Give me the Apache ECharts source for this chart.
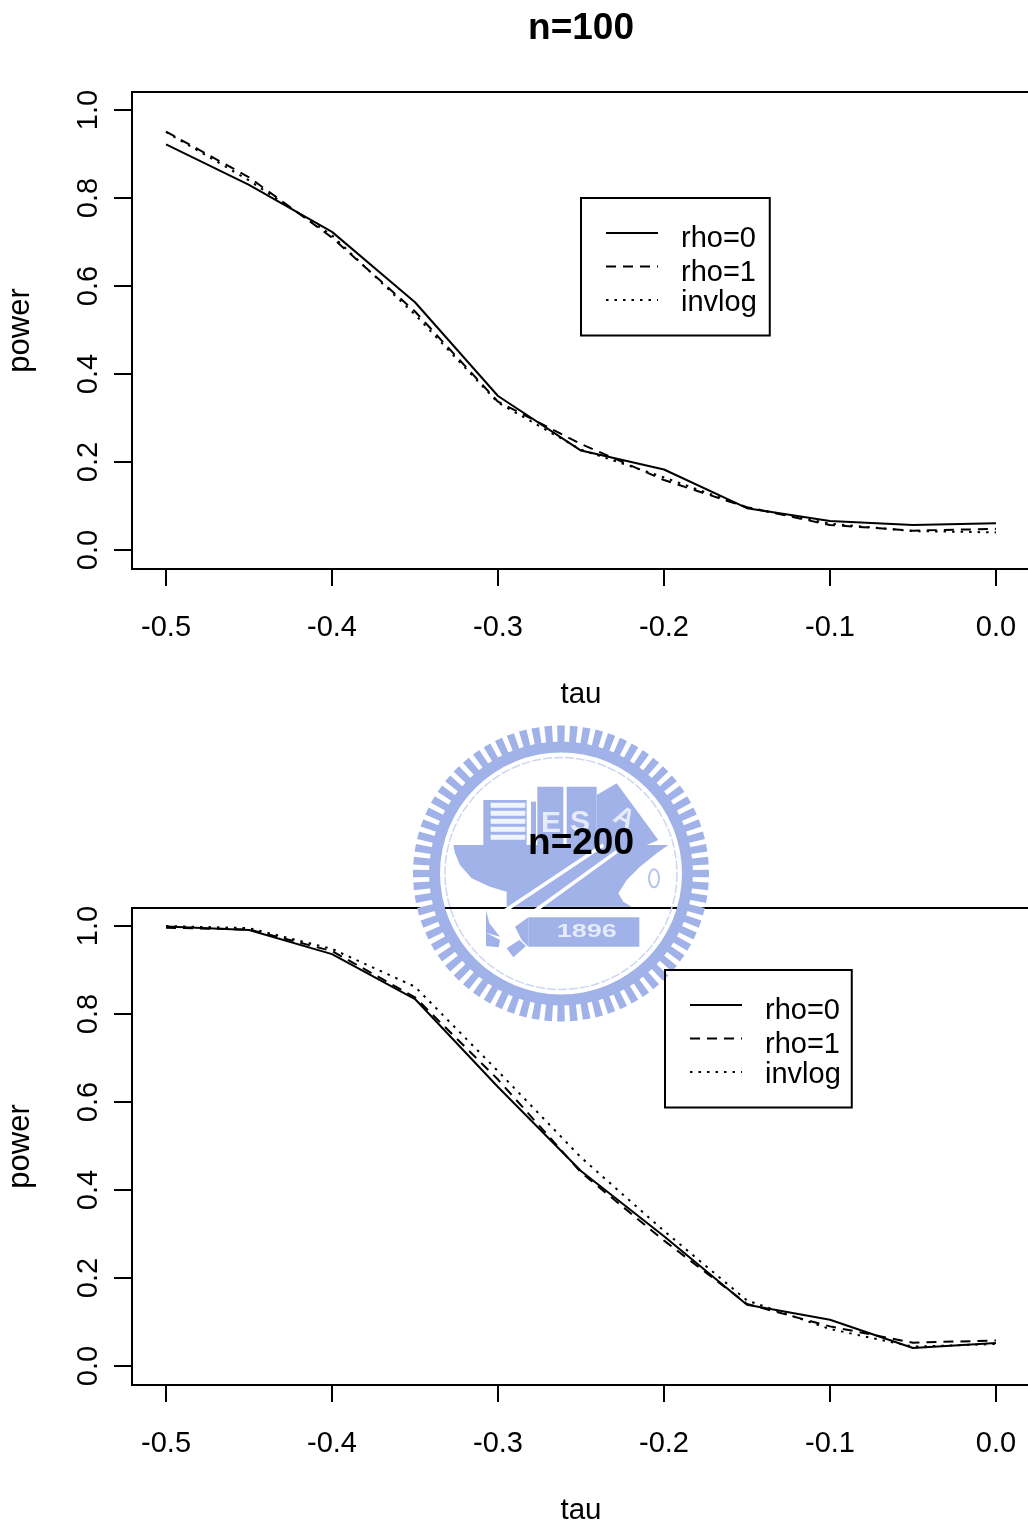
<!DOCTYPE html>
<html>
<head>
<meta charset="utf-8">
<style>html,body{margin:0;padding:0;background:#fff}#c{width:1028px;height:1526px}</style>
<script src="https://cdn.jsdelivr.net/npm/echarts@6/dist/echarts.min.js"></script>
</head>
<body>
<div id="c"></div>
<script>
const tau = [-0.5,-0.45,-0.4,-0.35,-0.3,-0.25,-0.2,-0.15,-0.1,-0.05,0];
const xTicks = [-0.5,-0.4,-0.3,-0.2,-0.1,0];
const yTicks = [0,0.2,0.4,0.6,0.8,1];
const seriesNames = ['rho=0','rho=1','invlog'];
const titles = ['n=100','n=200'];

const n100rho0 = [0.922,0.830,0.723,0.563,0.350,0.226,0.183,0.095,0.066,0.057,0.061];
const n100rho1 = [0.951,0.847,0.710,0.542,0.337,0.241,0.159,0.097,0.057,0.044,0.048];
const n100inv  = [0.950,0.840,0.715,0.535,0.335,0.228,0.165,0.097,0.060,0.043,0.040];

const n200rho0 = [0.999,0.991,0.936,0.834,0.634,0.443,0.295,0.139,0.105,0.041,0.052];
const n200rho1 = [0.996,0.992,0.943,0.838,0.651,0.440,0.285,0.141,0.090,0.053,0.058];
const n200inv  = [1.000,0.995,0.948,0.862,0.670,0.474,0.307,0.149,0.084,0.044,0.050];

const font = '"Liberation Sans", Arial, sans-serif';
const pair = ys => ys.map((y,i)=>[tau[i],y]);
const lineStyles = [
  {color:'#000',width:2,type:'solid'},
  {color:'#000',width:2,type:[10,7]},
  {color:'#000',width:2,type:[2.5,6]}
];

function plotSeries(idx, arrays){
  return arrays.map((ys,i)=>({
    name:seriesNames[i], type:'line', xAxisIndex:idx, yAxisIndex:idx,
    data:pair(ys), symbol:'none', lineStyle:lineStyles[i], itemStyle:{color:'#000'},
    clip:true, animation:false, z:5-i
  }));
}
function xAxisOf(idx){
  return {
    gridIndex:idx, type:'value', min:-0.5205, max:0.0205,
    name:'tau', nameLocation:'middle', nameGap:111,
    nameTextStyle:{fontFamily:font,fontSize:29.5,color:'#000'},
    axisLine:{show:true,onZero:false,lineStyle:{color:'#000',width:2}},
    axisTick:{show:true,length:17,customValues:xTicks,lineStyle:{color:'#000',width:2}},
    axisLabel:{show:true,customValues:xTicks,margin:44,fontFamily:font,fontSize:29,color:'#000',
      showMinLabel:true,showMaxLabel:true,hideOverlap:false,formatter:v=>v.toFixed(1)},
    splitLine:{show:false}
  };
}
function yAxisOf(idx){
  return {
    gridIndex:idx, type:'value', min:-0.0432, max:1.0409,
    name:'power', nameLocation:'middle', nameGap:96, nameRotate:90,
    nameTextStyle:{fontFamily:font,fontSize:31,color:'#000'},
    axisLine:{show:true,onZero:false,lineStyle:{color:'#000',width:2}},
    axisTick:{show:true,length:18,customValues:yTicks,lineStyle:{color:'#000',width:2}},
    axisLabel:{show:true,customValues:yTicks,rotate:90,margin:29,fontFamily:font,fontSize:29,color:'#000',
      hideOverlap:false,formatter:v=>v.toFixed(1)},
    splitLine:{show:false}
  };
}
const tok = {a:{p:[12,0,0,18]},b:{p:[12,0,0,18]},c:{p:[9,0,3,18]}};
function legendOf(left,top,rightPad){
  const rich={};
  Object.keys(tok).forEach(k=>{rich[k]={fontFamily:font,fontSize:29,color:'#000',verticalAlign:'top',padding:tok[k].p};});
  return {
    left:left, top:top, orient:'vertical', itemWidth:52, itemHeight:30, itemGap:1,
    padding:[23,rightPad,18,24], borderColor:'#000', borderWidth:2, backgroundColor:'rgba(255,255,255,0)',
    data:seriesNames, selectedMode:false, inactiveColor:'#000',
    itemStyle:{color:'transparent',borderWidth:0,opacity:0},
    formatter:n=>`{${'abc'[seriesNames.indexOf(n)]}|${n}}`,
    textStyle:{fontFamily:font,fontSize:29,color:'#000',rich:rich}
  };
}

/* --- decorative watermark behind the plots --- */
const LOGO='#a0b2e8';
const z=(x,y)=>[400+x/3,710+y/3];
const poly=(pts,fill)=>({type:'polygon',shape:{points:pts.map(p=>z(p[0],p[1]))},style:{fill:fill||LOGO}});
const rect=(x0,y0,x1,y1,fill)=>{const a=z(x0,y0),b=z(x1,y1);return {type:'rect',shape:{x:a[0],y:a[1],width:b[0]-a[0],height:b[1]-a[1]},style:{fill:fill||LOGO}};};
const lin=(pts,w)=>({type:'polyline',shape:{points:pts.map(p=>z(p[0],p[1]))},style:{stroke:'#fff',lineWidth:w,fill:null}});
const logoText=(t,x,y,size,rot,sx)=>{const p=z(x,y);return {type:'text',x:p[0],y:p[1],rotation:rot||0,scaleX:sx||1,style:{text:t,fontFamily:font,fontWeight:'bold',fontSize:size,fill:'#e6ebfa',align:'center',verticalAlign:'middle'}};};
function logo(){
  const cx=561,cy=873.5,els=[];
  els.push({type:'ring',shape:{cx,cy,r:132,r0:121},style:{fill:LOGO}});
  els.push({type:'circle',shape:{cx,cy,r:116},style:{fill:null,stroke:'#ccd6f2',lineWidth:1.5,lineDash:[9,2]}});
  const N=72;
  for(let i=0;i<N;i++){
    const a=2*Math.PI*i/N, d=0.026;
    const pt=(r,t)=>[cx+r*Math.cos(t),cy+r*Math.sin(t)];
    els.push({type:'polygon',shape:{points:[pt(130,a-d),pt(148,a-d),pt(148,a+d),pt(130,a+d)]},style:{fill:LOGO}});
  }
  els.push(poly([[160,405],[805,405],[770,430],[720,470],[680,510],[655,550],[670,575],[695,590],[320,590],[320,545],[270,530],[215,505],[180,465],[165,430]]));
  els.push(rect(250,270,380,405));
  for(let y=278;y<395;y+=24) els.push(rect(272,y,376,y+15,'#f2f4fc'));
  els.push(rect(393,275,408,405));
  els.push(rect(412,230,490,405));
  els.push(rect(500,230,590,405));
  els.push(poly([[590,255],[650,220],[775,390],[740,405],[590,405]]));
  els.push(logoText('E',453,342,30));
  els.push(logoText('S',540,338,30));
  els.push(logoText('A',672,325,27,-0.5));
  els.push(lin([[300,612],[610,405]],3.5));
  els.push(lin([[350,642],[650,425]],3.5));
  els.push(poly([[258,600],[268,640],[300,680],[258,668]]));
  els.push(poly([[258,668],[300,690],[296,712],[258,708]]));
  els.push(poly([[320,715],[358,690],[378,708],[340,742]]));
  els.push(poly([[345,650],[385,622],[385,710],[365,690]]));
  els.push(rect(385,622,718,710));
  els.push(logoText('1896',560,665,18,0,1.5));
  const c=z(762,505);
  els.push({type:'ellipse',shape:{cx:c[0],cy:c[1],rx:5,ry:9},style:{fill:null,stroke:'#b7c5ec',lineWidth:2}});
  return els;
}

const option = {
  backgroundColor:'#fff',
  animation:false,
  graphic:[{type:'group',z:-10,silent:true,children:logo()}],
  title:titles.map((t,i)=>({
    text:t,left:576,top:[5,820][i],textAlign:'center',
    textStyle:{fontFamily:font,fontWeight:'bold',fontSize:37,color:'#000'}
  })),
  grid:[
    {left:132,top:92,width:898,height:477,show:true,borderColor:'#000',borderWidth:2,backgroundColor:'transparent',containLabel:false,outerBoundsMode:'none'},
    {left:132,top:908,width:898,height:477,show:true,borderColor:'#000',borderWidth:2,backgroundColor:'transparent',containLabel:false,outerBoundsMode:'none'}
  ],
  xAxis:[xAxisOf(0),xAxisOf(1)],
  yAxis:[yAxisOf(0),yAxisOf(1)],
  legend:[legendOf(581,198,13),legendOf(665,970,11)],
  series:[...plotSeries(0,[n100rho0,n100rho1,n100inv]),...plotSeries(1,[n200rho0,n200rho1,n200inv])]
};
const chart=echarts.init(document.getElementById('c'),null,{renderer:'canvas',width:1028,height:1526});
chart.setOption(option);
</script>
</body>
</html>
